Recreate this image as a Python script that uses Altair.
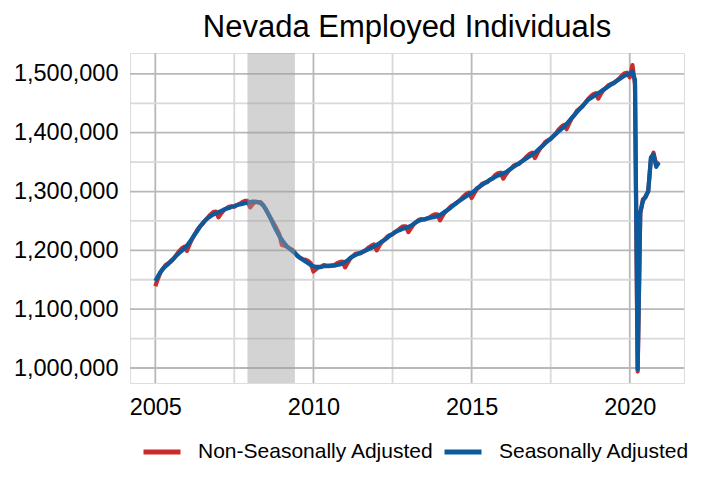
import altair as alt
import pandas as pd

# Monthly employment, thousands of persons, Jan 2005 .. Dec 2020
sa_thousands = [
    1148, 1156, 1163, 1169, 1173, 1177, 1182, 1186, 1191, 1195, 1199, 1203,  # 2005
    1208, 1214, 1220, 1227, 1233, 1240, 1246, 1251, 1255, 1258, 1261, 1263,  # 2006
    1265, 1267, 1269, 1271, 1272, 1274, 1275, 1277, 1278, 1279, 1280, 1281,  # 2007
    1282, 1283, 1283, 1282, 1280, 1276, 1270, 1261, 1252, 1242, 1233, 1225,  # 2008
    1218, 1212, 1207, 1203, 1199, 1195, 1191, 1187, 1184, 1181, 1178, 1175,  # 2009
    1173, 1172, 1172, 1172, 1173, 1173, 1174, 1174, 1174, 1175, 1176, 1178,  # 2010
    1180, 1183, 1187, 1190, 1192, 1194, 1196, 1198, 1200, 1202, 1204, 1207,  # 2011
    1209, 1212, 1215, 1218, 1221, 1225, 1228, 1231, 1233, 1235, 1237, 1238,  # 2012
    1240, 1242, 1245, 1248, 1250, 1252, 1253, 1254, 1255, 1256, 1257, 1258,  # 2013
    1260, 1263, 1266, 1269, 1272, 1276, 1280, 1283, 1286, 1289, 1292, 1295,  # 2014
    1298, 1301, 1305, 1308, 1311, 1314, 1317, 1320, 1322, 1325, 1327, 1329,  # 2015
    1331, 1333, 1336, 1339, 1342, 1345, 1348, 1351, 1354, 1357, 1360, 1363,  # 2016
    1366, 1370, 1374, 1378, 1382, 1386, 1390, 1394, 1398, 1402, 1406, 1410,  # 2017
    1415, 1420, 1425, 1430, 1435, 1440, 1445, 1450, 1455, 1458, 1461, 1464,  # 2018
    1467, 1470, 1473, 1476, 1479, 1482, 1485, 1488, 1491, 1494, 1497, 1499,  # 2019
    1500, 1504, 1490, 998, 1265, 1284, 1292, 1300, 1358, 1363, 1342, 1349,   # 2020
]

nsa_thousands = [
    1139, 1152, 1162, 1169, 1175, 1178, 1181, 1186, 1192, 1198, 1203, 1206,  # 2005
    1199, 1210, 1219, 1227, 1235, 1241, 1245, 1251, 1256, 1261, 1265, 1266,  # 2006
    1256, 1263, 1268, 1271, 1274, 1275, 1274, 1277, 1279, 1282, 1284, 1284,  # 2007
    1273, 1279, 1282, 1282, 1282, 1277, 1269, 1261, 1253, 1245, 1237, 1228,  # 2008
    1209, 1208, 1206, 1203, 1201, 1196, 1190, 1187, 1185, 1184, 1182, 1178,  # 2009
    1164, 1168, 1171, 1172, 1175, 1174, 1173, 1174, 1175, 1178, 1180, 1181,  # 2010
    1171, 1179, 1186, 1190, 1194, 1195, 1195, 1198, 1201, 1205, 1208, 1210,  # 2011
    1200, 1208, 1214, 1218, 1223, 1226, 1227, 1231, 1234, 1238, 1241, 1241,  # 2012
    1231, 1238, 1244, 1248, 1252, 1253, 1252, 1254, 1256, 1259, 1261, 1261,  # 2013
    1251, 1259, 1265, 1269, 1274, 1277, 1279, 1283, 1287, 1292, 1296, 1298,  # 2014
    1289, 1297, 1304, 1308, 1313, 1315, 1316, 1320, 1323, 1328, 1331, 1332,  # 2015
    1322, 1329, 1335, 1339, 1344, 1346, 1347, 1351, 1355, 1360, 1364, 1366,  # 2016
    1357, 1366, 1373, 1378, 1384, 1387, 1389, 1394, 1399, 1405, 1410, 1413,  # 2017
    1406, 1416, 1424, 1430, 1437, 1441, 1444, 1450, 1456, 1461, 1465, 1467,  # 2018
    1458, 1466, 1472, 1476, 1481, 1483, 1484, 1488, 1492, 1497, 1501, 1502,  # 2019
    1494, 1515, 1482, 994, 1262, 1287, 1290, 1301, 1355, 1366, 1346, 1351,   # 2020
]

series_names = ["Non-Seasonally Adjusted", "Seasonally Adjusted"]
series_colors = ["#cc2b2b", "#0b5a9d"]

y_major = [1000000, 1100000, 1200000, 1300000, 1400000, 1500000]
y_minor = [1050000, 1150000, 1250000, 1350000, 1450000]
x_major_years = [2005, 2010, 2015, 2020]
x_minor_dates = ["2007-07-02", "2012-07-02", "2017-07-02"]
recession = ["2007-12-01", "2009-06-01"]

months = pd.date_range("2005-01-01", periods=len(sa_thousands), freq="MS")
df = pd.DataFrame({
    "date": list(months) * 2,
    "value": [v * 1000 for v in nsa_thousands] + [v * 1000 for v in sa_thousands],
    "series": [series_names[0]] * len(months) + [series_names[1]] * len(months),
})

xscale = alt.Scale(domain=[alt.DateTime(year=2004, month=3, date=15),
                           alt.DateTime(year=2021, month=9, date=18)], nice=False)
yscale = alt.Scale(domain=[974500, 1535500], nice=False, zero=False)

font = "Liberation Sans"
xaxis = alt.Axis(title=None, format="%Y", grid=False, ticks=False, domain=False,
                 values=[alt.DateTime(year=y, month=1, date=1) for y in x_major_years],
                 labelFontSize=23.5, labelFont=font, labelColor="black", labelPadding=12)
yaxis = alt.Axis(title=None, format=",d", grid=False, ticks=False, domain=False,
                 values=y_major, labelFontSize=23.5, labelFont=font, labelColor="black",
                 labelPadding=12)

x_enc = alt.X("date:T", scale=xscale, axis=xaxis)
y_enc = alt.Y("value:Q", scale=yscale, axis=yaxis)

color_enc = alt.Color(
    "series:N",
    scale=alt.Scale(domain=series_names, range=series_colors),
    legend=alt.Legend(title=None, orient="none", direction="horizontal",
                      legendX=11, legendY=378, symbolType="stroke",
                      symbolSize=1369, symbolStrokeWidth=5, labelFontSize=21,
                      labelFont=font, labelColor="black", labelOffset=15,
                      labelLimit=400, columnPadding=0),
)

gx_minor = alt.Chart(pd.DataFrame({"date": pd.to_datetime(x_minor_dates)})).mark_rule(
    color="#d9d9d9", strokeWidth=1.8).encode(x=x_enc)
gx_major = alt.Chart(pd.DataFrame({"date": pd.to_datetime([f"{y}-01-01" for y in x_major_years])})).mark_rule(
    color="#b8b8b8", strokeWidth=1.8).encode(x=x_enc)
gy_minor = alt.Chart(pd.DataFrame({"value": y_minor})).mark_rule(
    color="#d9d9d9", strokeWidth=1.8).encode(y=y_enc)
gy_major = alt.Chart(pd.DataFrame({"value": y_major})).mark_rule(
    color="#b8b8b8", strokeWidth=1.8).encode(y=y_enc)

red_line = alt.Chart(df).transform_filter(
    alt.datum.series == series_names[0]).mark_line(strokeWidth=4.2, strokeJoin="round").encode(
    x=x_enc, y=y_enc, color=color_enc)
blue_line = alt.Chart(df).transform_filter(
    alt.datum.series == series_names[1]).mark_line(strokeWidth=4.2, strokeJoin="round").encode(
    x=x_enc, y=y_enc, color=color_enc)

rect = alt.Chart(pd.DataFrame({"date": pd.to_datetime([recession[0]]),
                               "date2": pd.to_datetime([recession[1]])})).mark_rect(
    color="#9e9e9e", opacity=0.45).encode(
    x=x_enc, x2="date2:T", y=alt.value(0), y2=alt.value(330))

chart = alt.layer(gx_minor, gx_major, gy_minor, gy_major, red_line, blue_line, rect).properties(
    width=554, height=330,
    title=alt.TitleParams("Nevada Employed Individuals", fontSize=31, font=font,
                          fontWeight="normal", color="black", anchor="middle",
                          frame="group", baseline="bottom", offset=12, dy=35),
    autosize=alt.AutoSizeParams(type="none"),
    padding={"left": 122, "top": 45, "right": 12, "bottom": 102},
).configure_view(stroke=None).configure(background="white")

chart.save("out.html", embed_options={"renderer": "svg", "actions": False})
